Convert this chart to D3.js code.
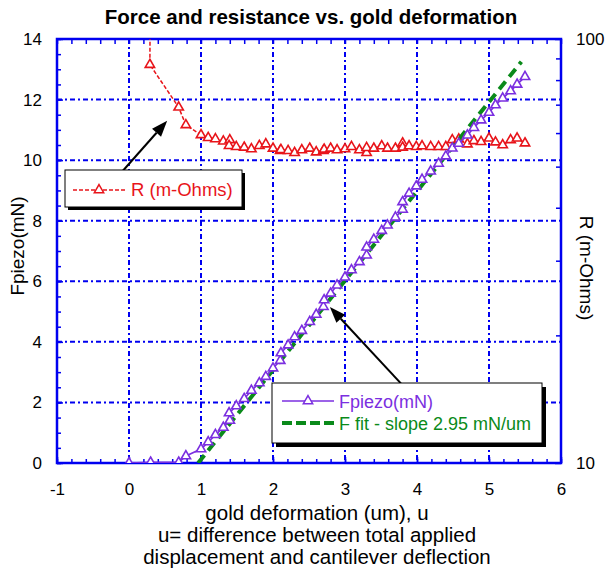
<!DOCTYPE html>
<html>
<head>
<meta charset="utf-8">
<script src="https://cdn.jsdelivr.net/npm/d3@7"></script>
<style>
body { margin: 0; background: #fff; }
text { font-family: "Liberation Sans", Arial, sans-serif; }
</style>
</head>
<body>
<svg id="chart" width="606" height="569"></svg>
<script>
// tick labels
var xTicks = [-1, 0, 1, 2, 3, 4, 5, 6];
var yTicks = [0, 2, 4, 6, 8, 10, 12, 14];
var rTicks = [10, 100];

// Fpiezo (mN) vs gold deformation (um)
var fpX = [0, 0.3, 0.69, 0.79, 1.0, 1.1, 1.2, 1.31, 1.40, 1.39, 1.49, 1.60, 1.70, 1.81, 1.90,
    2.0, 2.10, 2.11, 2.21, 2.30, 2.40, 2.51, 2.60, 2.70, 2.71, 2.80, 2.89, 3.0, 3.09, 3.20,
    3.30, 3.30, 3.40, 3.51, 3.59, 3.70, 3.80, 3.80, 3.89, 3.99, 4.07, 4.19, 4.30, 4.40, 4.49,
    4.58, 4.70, 4.79, 4.89, 5.0, 5.09, 5.19, 5.30, 5.39, 5.50];
var fpY = [0, 0.02, 0.02, 0.23, 0.46, 0.69, 0.93, 1.17, 1.40, 1.65, 1.88, 2.12, 2.39, 2.64, 2.85,
    3.13, 3.38, 3.63, 3.89, 4.16, 4.37, 4.66, 4.90, 5.16, 5.38, 5.60, 5.87, 6.13, 6.37, 6.64,
    6.86, 7.12, 7.38, 7.67, 7.85, 8.11, 8.37, 8.62, 8.90, 9.14, 9.36, 9.63, 9.89, 10.13, 10.39,
    10.55, 10.82, 11.07, 11.32, 11.57, 11.82, 12.04, 12.28, 12.50, 12.75];

// R (m-Ohms), right log axis
var rX = [0.31, 0.29, 0.69, 0.79, 1.0, 1.1, 1.2, 1.31, 1.40, 1.39, 1.49, 1.60, 1.70, 1.81, 1.90,
    2.0, 2.10, 2.11, 2.21, 2.30, 2.40, 2.51, 2.60, 2.70, 2.71, 2.80, 2.89, 3.0, 3.09, 3.20,
    3.30, 3.30, 3.40, 3.51, 3.59, 3.70, 3.80, 3.80, 3.89, 3.99, 4.07, 4.19, 4.30, 4.40, 4.49,
    4.58, 4.70, 4.79, 4.89, 5.0, 5.09, 5.19, 5.30, 5.39, 5.50];
var rY = [400, 87, 69.0, 62.7, 59.4, 58.5, 58.1, 57.4, 57.8, 56.0, 55.7, 55.5, 55.0, 56.0, 56.5,
    55.2, 54.5, 54.8, 54.5, 53.9, 54.7, 55.2, 54.1, 54.5, 54.9, 55.2, 54.7, 55.0, 55.7, 54.7,
    53.9, 55.4, 55.2, 55.9, 55.2, 55.2, 56.8, 55.5, 55.9, 55.7, 55.9, 55.7, 55.7, 55.7, 57.8,
    58.0, 56.5, 57.5, 57.2, 58.3, 57.1, 56.2, 57.8, 58.3, 56.8];

// linear fit, slope 2.95 mN/um
var fitX = [0.96, 5.45];
var fitY = [0, 13.25];

var blue = "#0000f0", red = "#e8141a", purple = "#7b2fe0", green = "#0a8a1a";

var svg = d3.select("#chart");
var pl = 57, pr = 561, pt = 39, pb = 463;

var x = d3.scaleLinear().domain([-1, 6]).range([pl, pr]);
var y = d3.scaleLinear().domain([0, 14]).range([pb, pt]);
var yR = d3.scaleLog().domain([10, 100]).range([pb, pt]);

var fpData = fpX.map(function(v, i) { return {x: v, y: fpY[i]}; });
var rData = rX.map(function(v, i) { return {x: v, y: rY[i]}; });
var fitData = fitX.map(function(v, i) { return {x: v, y: fitY[i]}; });

svg.append("defs").append("clipPath").attr("id", "plot")
    .append("rect").attr("x", pl).attr("y", pt)
    .attr("width", pr - pl).attr("height", pb - pt);

// grid
var grid = svg.append("g");
grid.selectAll(".vg").data(xTicks.slice(1, -1)).enter().append("line")
    .attr("x1", function(d) { return x(d); }).attr("x2", function(d) { return x(d); })
    .attr("y1", pt).attr("y2", pb);
grid.selectAll(".hg").data(yTicks.slice(1, -1)).enter().append("line")
    .attr("y1", function(d) { return y(d); }).attr("y2", function(d) { return y(d); })
    .attr("x1", pl).attr("x2", pr);
grid.selectAll("line")
    .attr("stroke", blue).attr("stroke-width", 2)
    .attr("stroke-dasharray", "5,3,2,3");

// axes
function styleAxis(g) {
    g.select(".domain").remove();
    g.selectAll("line").attr("stroke", blue).attr("stroke-width", 1.5);
    g.selectAll("text").attr("font-size", 17).attr("fill", "#000")
        .attr("font-family", "Liberation Sans, Arial, sans-serif");
}
var plain = function(d) { return String(d); };

svg.append("g").attr("transform", "translate(0," + pb + ")")
    .call(d3.axisBottom(x).tickValues(xTicks).tickSize(-6).tickPadding(20).tickFormat(plain))
    .call(styleAxis);
svg.append("g").attr("transform", "translate(0," + pb + ")")
    .call(d3.axisBottom(x).tickValues(d3.range(-1, 6.01, 0.2)).tickSize(-4).tickFormat(""))
    .call(styleAxis);
svg.append("g").attr("transform", "translate(0," + pt + ")")
    .call(d3.axisTop(x).tickValues(d3.range(-1, 6.01, 0.2)).tickSize(-5).tickFormat(""))
    .call(styleAxis);
svg.append("g").attr("transform", "translate(" + pl + ",0)")
    .call(d3.axisLeft(y).tickValues(yTicks).tickSize(-6).tickPadding(15).tickFormat(plain))
    .call(styleAxis);
svg.append("g").attr("transform", "translate(" + pl + ",0)")
    .call(d3.axisLeft(y).tickValues(d3.range(0, 14.01, 0.5)).tickSize(-4).tickFormat(""))
    .call(styleAxis);
svg.append("g").attr("transform", "translate(" + pr + ",0)")
    .call(d3.axisRight(yR).tickValues(rTicks).tickSize(-6).tickPadding(15).tickFormat(plain))
    .call(styleAxis);
svg.append("g").attr("transform", "translate(" + pr + ",0)")
    .call(d3.axisRight(yR).tickValues([20, 30, 40, 50, 60, 70, 80, 90]).tickSize(-5).tickFormat(""))
    .call(styleAxis);

svg.append("rect").attr("x", pl).attr("y", pt)
    .attr("width", pr - pl).attr("height", pb - pt)
    .attr("fill", "none").attr("stroke", blue).attr("stroke-width", 2.5);

// series
var plot = svg.append("g").attr("clip-path", "url(#plot)");
var tri = d3.symbol().type(d3.symbolTriangle).size(38);

plot.append("path").datum(rData)
    .attr("fill", "none").attr("stroke", red).attr("stroke-width", 1.5)
    .attr("stroke-dasharray", "4,2")
    .attr("d", d3.line().x(function(d) { return x(d.x); }).y(function(d) { return yR(d.y); }));
plot.selectAll(".rm").data(rData).enter().append("path")
    .attr("d", tri).attr("fill", "#fff").attr("stroke", red).attr("stroke-width", 1.6)
    .attr("transform", function(d) { return "translate(" + x(d.x) + "," + yR(d.y) + ")"; });

plot.append("path").datum(fitData)
    .attr("fill", "none").attr("stroke", green).attr("stroke-width", 4)
    .attr("stroke-dasharray", "10,6")
    .attr("d", d3.line().x(function(d) { return x(d.x); }).y(function(d) { return y(d.y); }));

plot.append("path").datum(fpData)
    .attr("fill", "none").attr("stroke", purple).attr("stroke-width", 1.6)
    .attr("d", d3.line().x(function(d) { return x(d.x); }).y(function(d) { return y(d.y); }));
plot.selectAll(".fm").data(fpData).enter().append("path")
    .attr("d", tri).attr("fill", "#fff").attr("stroke", purple).attr("stroke-width", 1.6)
    .attr("transform", function(d) { return "translate(" + x(d.x) + "," + y(d.y) + ")"; });

// arrows (data coordinates)
function arrow(x1, y1, x2, y2) {
    var ax = x(x1), ay = y(y1), bx = x(x2), by = y(y2);
    var a = Math.atan2(by - ay, bx - ax), len = 16, w = 6;
    var ex = bx - len * Math.cos(a), ey = by - len * Math.sin(a);
    svg.append("line").attr("x1", ax).attr("y1", ay).attr("x2", ex).attr("y2", ey)
        .attr("stroke", "#000").attr("stroke-width", 2);
    svg.append("path")
        .attr("d", "M" + bx + "," + by +
            "L" + (ex + w * Math.sin(a)) + "," + (ey - w * Math.cos(a)) +
            "L" + (ex - w * Math.sin(a)) + "," + (ey + w * Math.cos(a)) + "Z")
        .attr("fill", "#000");
}
arrow(-0.14, 9.5, 0.53, 11.3);
arrow(3.85, 2.44, 2.79, 5.15);

// legends
function legendBox(bx, by, bw, bh, sh) {
    svg.append("rect").attr("x", bx + sh).attr("y", by + sh).attr("width", bw).attr("height", bh)
        .attr("fill", "#000");
    svg.append("rect").attr("x", bx).attr("y", by).attr("width", bw).attr("height", bh)
        .attr("fill", "#fff").attr("stroke", "#000").attr("stroke-width", 1);
}

legendBox(65, 170, 177, 37, 3);
svg.append("line").attr("x1", 73).attr("x2", 127).attr("y1", 190).attr("y2", 190)
    .attr("stroke", red).attr("stroke-width", 1.5).attr("stroke-dasharray", "4,2");
svg.append("path").attr("d", tri).attr("fill", "#fff").attr("stroke", red).attr("stroke-width", 1.5)
    .attr("transform", "translate(99,190)");
svg.append("text").attr("x", 131).attr("y", 196).attr("font-size", 18.5)
    .attr("fill", red).text("R (m-Ohms)");

legendBox(272, 383, 270, 60, 4);
svg.append("line").attr("x1", 282).attr("x2", 334).attr("y1", 401).attr("y2", 401)
    .attr("stroke", purple).attr("stroke-width", 1.5);
svg.append("path").attr("d", tri).attr("fill", "#fff").attr("stroke", purple).attr("stroke-width", 1.5)
    .attr("transform", "translate(308,401)");
svg.append("text").attr("x", 339).attr("y", 408).attr("font-size", 18)
    .attr("fill", purple).text("Fpiezo(mN)");
svg.append("line").attr("x1", 282).attr("x2", 334).attr("y1", 423).attr("y2", 423)
    .attr("stroke", green).attr("stroke-width", 4).attr("stroke-dasharray", "10,4");
svg.append("text").attr("x", 339).attr("y", 430).attr("font-size", 18)
    .attr("fill", green).text("F fit - slope 2.95 mN/um");

// titles
svg.append("text").attr("x", 311).attr("y", 24).attr("text-anchor", "middle")
    .attr("font-size", 20.5).attr("font-weight", "bold")
    .text("Force and resistance vs. gold deformation");

var xl = svg.append("text").attr("text-anchor", "middle").attr("font-size", 20.5);
xl.append("tspan").attr("x", 317).attr("y", 520).text("gold deformation (um), u");
xl.append("tspan").attr("x", 317).attr("y", 542).text("u= difference between total applied");
xl.append("tspan").attr("x", 317).attr("y", 564).text("displacement and cantilever deflection");

svg.append("text").attr("transform", "translate(24,246) rotate(-90)")
    .attr("text-anchor", "middle").attr("font-size", 19).text("Fpiezo(mN)");
svg.append("text").attr("transform", "translate(580,268) rotate(90)")
    .attr("text-anchor", "middle").attr("font-size", 19).text("R (m-Ohms)");
</script>
</body>
</html>
